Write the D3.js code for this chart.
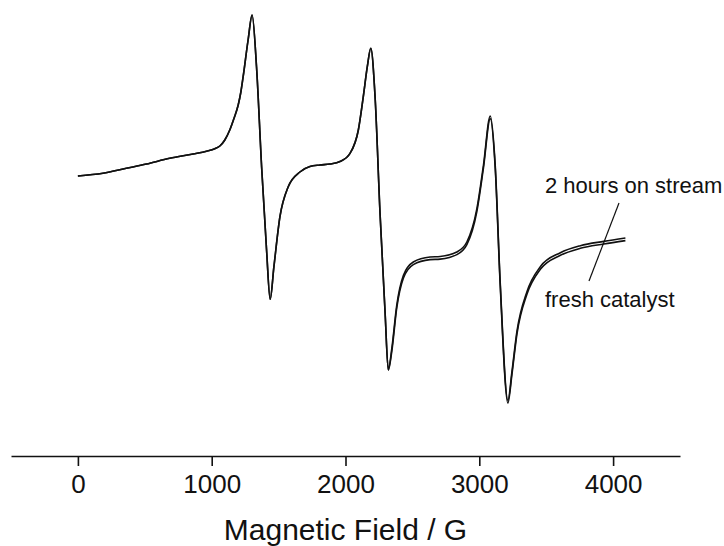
<!DOCTYPE html>
<html>
<head>
<meta charset="utf-8">
<script src="https://cdn.jsdelivr.net/npm/d3@7"></script>
<style>
  html, body { margin: 0; padding: 0; background: #fff; }
  svg { display: block; font-family: "Liberation Sans", Arial, sans-serif; }
</style>
</head>
<body>
<svg id="chart" width="724" height="546"></svg>
<script>
// Magnetic field (G) sample positions
const fieldG = [0,187,362,512,686,861,961,1023,1061,1098,1135,1165,1198,1218,1235,1272,1302,1335,1373,1410,1437,1465,1510,1572,1659,1734,1809,1884,1959,2034,2096,2133,2163,2189,2221,2258,2296,2320,2346,2383,2433,2507,2632,2707,2832,2907,2982,3031,3082,3119,3156,3214,3244,3281,3356,3456,3606,3755,3930,4092];
// EPR signal intensity (arbitrary units)
const hoursOnStream = [-10,17,67,110,167,210,237,262,290,350,450,560,700,830,983,1350,1600,1083,83,-750,-1243,-917,-417,-117,30,85,100,110,135,217,450,783,1083,1267,783,-380,-1380,-1950,-1737,-1304,-1004,-870,-820,-815,-770,-670,-337,96,590,96,-1067,-2254,-1967,-1567,-1167,-917,-777,-707,-664,-630];
const freshCatalyst = [-10,17,67,110,167,210,237,262,290,350,450,560,700,830,983,1350,1600,1083,83,-750,-1243,-917,-417,-117,30,85,100,110,135,217,450,783,1083,1267,783,-380,-1380,-1950,-1763,-1330,-1030,-896,-846,-841,-796,-696,-363,70,564,70,-1093,-2280,-1993,-1593,-1193,-943,-803,-733,-690,-656];
const seriesNames = ["2 hours on stream", "fresh catalyst"];
const xTicks = [0, 1000, 2000, 3000, 4000];
const xTitle = "Magnetic Field / G";

const svg = d3.select("#chart");
const x = d3.scaleLinear().domain([-500, 4500]).range([11, 680]);
const y = d3.scaleLinear().domain([-2810, 1750]).range([456, 0]);
const axisY = 456;

const line = d3.line()
  .x(d => x(d[0]))
  .y(d => y(d[1]))
  .curve(d3.curveMonotoneX);

[hoursOnStream, freshCatalyst].forEach(vals => {
  svg.append("path")
    .datum(fieldG.map((g, i) => [g, vals[i]]))
    .attr("fill", "none")
    .attr("stroke", "#111")
    .attr("stroke-width", 1.6)
    .attr("stroke-linejoin", "round")
    .attr("d", line);
});

// x axis
const axis = d3.axisBottom(x).tickValues(xTicks).tickFormat(d3.format("d"))
  .tickSize(10).tickPadding(9).tickSizeOuter(0);
const gx = svg.append("g").attr("transform", `translate(0,${axisY})`).call(axis);
gx.select(".domain").attr("stroke", "#111").attr("stroke-width", 1.6);
gx.selectAll(".tick line").attr("stroke", "#111").attr("stroke-width", 1.6);
gx.selectAll(".tick text").attr("fill", "#111").style("font-size", "26px")
  .style("font-family", "'Liberation Sans', Arial, sans-serif");

svg.append("text")
  .attr("x", (x(-500) + x(4500)) / 2)
  .attr("y", 540)
  .attr("text-anchor", "middle")
  .style("font-size", "30px")
  .attr("fill", "#111")
  .text(xTitle);

// series labels with leader line
svg.append("text").attr("x", 545).attr("y", 193).style("font-size", "22px").attr("fill", "#111").text(seriesNames[0]);
svg.append("text").attr("x", 545).attr("y", 307).style("font-size", "22px").attr("fill", "#111").text(seriesNames[1]);
svg.append("line")
  .attr("x1", 619).attr("y1", 203).attr("x2", 589).attr("y2", 281)
  .attr("stroke", "#111").attr("stroke-width", 1.2);
</script>
</body>
</html>
